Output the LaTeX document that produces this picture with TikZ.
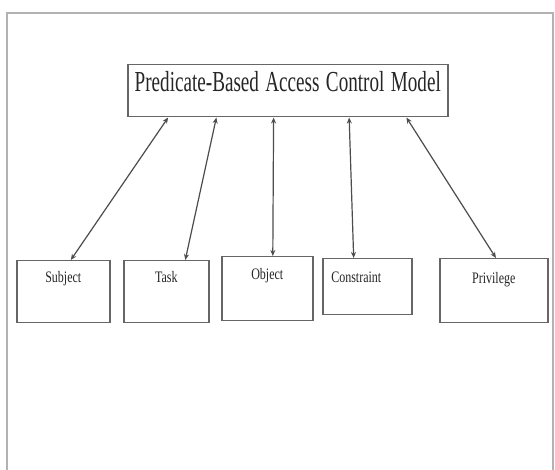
\documentclass[tikz,border=0pt]{standalone}
\usepackage{fontspec}
\setmainfont{Liberation Serif}
\usetikzlibrary{arrows.meta,calc}
\begin{document}
\begin{tikzpicture}[x=1pt,y=-1pt,
  frameline/.style={draw=black!30,line width=2.2pt},
  boxnode/.style={draw=black!60,line width=1.5pt,inner xsep=0pt,inner ysep=0pt,
    anchor=north west,align=center,text=black!85,
    font=\fontsize{16}{16}\selectfont},
  conn/.style={draw=black!70,line width=1.2pt,
    {Stealth[length=6pt,width=5pt]}-{Stealth[length=6pt,width=5pt]}}]
\useasboundingbox (0,0) rectangle (555,470);
\fill[white] (0,0) rectangle (555,470);
\draw[frameline] (7,471) -- (7,13) -- (553,13) -- (553,471);

\node[boxnode,text width=320pt,text height=27pt,text depth=25pt,
  font=\fontsize{29}{29}\selectfont] (top) at (127,64)
  {\scalebox{0.66}[1]{Predicate-Based Access Control Model}};

\node[boxnode,text width=93pt,text height=22pt,text depth=40pt] (subj) at (16,260)
  {\scalebox{0.75}[1]{Subject}};
\node[boxnode,text width=85pt,text height=22pt,text depth=40pt] (task) at (123,260)
  {\scalebox{0.75}[1]{Task}};
\node[boxnode,text width=91pt,text height=23pt,text depth=41pt] (obj) at (221,256)
  {\scalebox{0.75}[1]{Object}};
\node[boxnode,text width=89pt,text height=24pt,text depth=32pt] (cons) at (322,258)
  {\hspace*{-22pt}\scalebox{0.75}[1]{Constraint}};
\node[boxnode,text width=108pt,text height=25pt,text depth=39pt] (priv) at (439,258)
  {\scalebox{0.75}[1]{Privilege}};

\draw[conn] ($(top.south west)!0.128!(top.south east)$) -- ($(subj.north west)!0.58!(subj.north east)$);
\draw[conn] ($(top.south west)!0.278!(top.south east)$) -- ($(task.north west)!0.72!(task.north east)$);
\draw[conn] ($(top.south west)!0.456!(top.south east)$) -- ($(obj.north west)!0.56!(obj.north east)$);
\draw[conn] ($(top.south west)!0.691!(top.south east)$) -- ($(cons.north west)!0.35!(cons.north east)$);
\draw[conn] ($(top.south west)!0.869!(top.south east)$) -- ($(priv.north west)!0.52!(priv.north east)$);
\end{tikzpicture}
\end{document}
